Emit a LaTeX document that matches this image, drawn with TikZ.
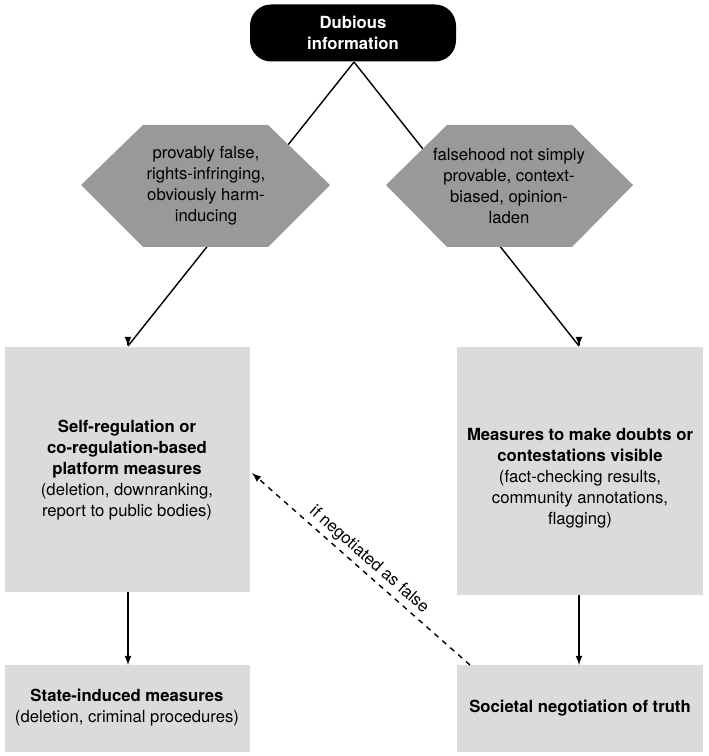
\documentclass[tikz,border=0pt]{standalone}
\usepackage{fontspec}
\setmainfont{TeX Gyre Heros}
\tikzset{
  box/.style={fill=black!14, draw=none},
  hexa/.style={fill=black!40, draw=none},
  txt/.style={align=center, font=\fontsize{9.5}{11.9}\selectfont, inner sep=0pt},
}
\begin{document}
\begin{tikzpicture}[x=0.02cm,y=-0.02cm]
  % frame
  \useasboundingbox (0,0) rectangle (708,756);

  % connectors behind the hexagons
  \coordinate (top) at (354,62);
  \coordinate (ltip) at (128,346);
  \coordinate (rtip) at (579,346);
  \draw[thick] (top) -- (ltip);
  \draw[thick] (top) -- (rtip);

  % top node
  \node[fill=black, rounded corners=12pt, minimum width=206*0.02cm, minimum height=57*0.02cm,
        txt, text=white, font=\fontsize{9.5}{11.9}\selectfont\bfseries] (dub) at (353,33) {Dubious\\information};

  % hexagons
  \fill[hexa] (81,185) -- (143,125) -- (268,125) -- (330,185) -- (268,247) -- (143,247) -- cycle;
  \node[txt] (hl) at (206,186) {provably false,\\rights-infringing,\\obviously harm-\\inducing};
  \fill[hexa] (386,185) -- (447,125) -- (572,125) -- (633,185) -- (572,247) -- (447,247) -- cycle;
  \node[txt] (hr) at (509,186) {falsehood not simply\\provable, context-\\biased, opinion-\\laden};

  % boxes
  \fill[box] (5,347) rectangle (250,592);
  \node[txt] (sr) at (127,470) {\textbf{Self-regulation or}\\\textbf{co-regulation-based}\\\textbf{platform measures}\\(deletion, downranking,\\report to public bodies)};
  \fill[box] (457,347) rectangle (703,595);
  \node[txt] (md) at (580,478) {\textbf{Measures to make doubts or}\\\textbf{contestations visible}\\(fact-checking results,\\community annotations,\\flagging)};
  \fill[box] (5,665) rectangle (250,752);
  \node[txt] (st) at (127,708) {\textbf{State-induced measures}\\(deletion, criminal procedures)};
  \fill[box] (457,665) rectangle (703,752);
  \node[txt] (sn) at (580,708) {\textbf{Societal negotiation of truth}};

  % arrows
  \draw[thick,-latex] (ltip) ++(0,-1) -- (ltip);
  \draw[thick,-latex] (rtip) ++(0,-1) -- (rtip);
  \coordinate (la) at (128,592); \coordinate (lb) at (128,665);
  \coordinate (ra) at (579,595); \coordinate (rb) at (579,665);
  \draw[thick,-latex] (la) -- (lb);
  \draw[thick,-latex] (ra) -- (rb);
  \coordinate (da) at (470,665); \coordinate (db) at (252,473);
  \draw[thick,dashed,-latex] (da) -- node[sloped, above=2pt, txt] {if negotiated as false} (db);
\end{tikzpicture}
\end{document}
